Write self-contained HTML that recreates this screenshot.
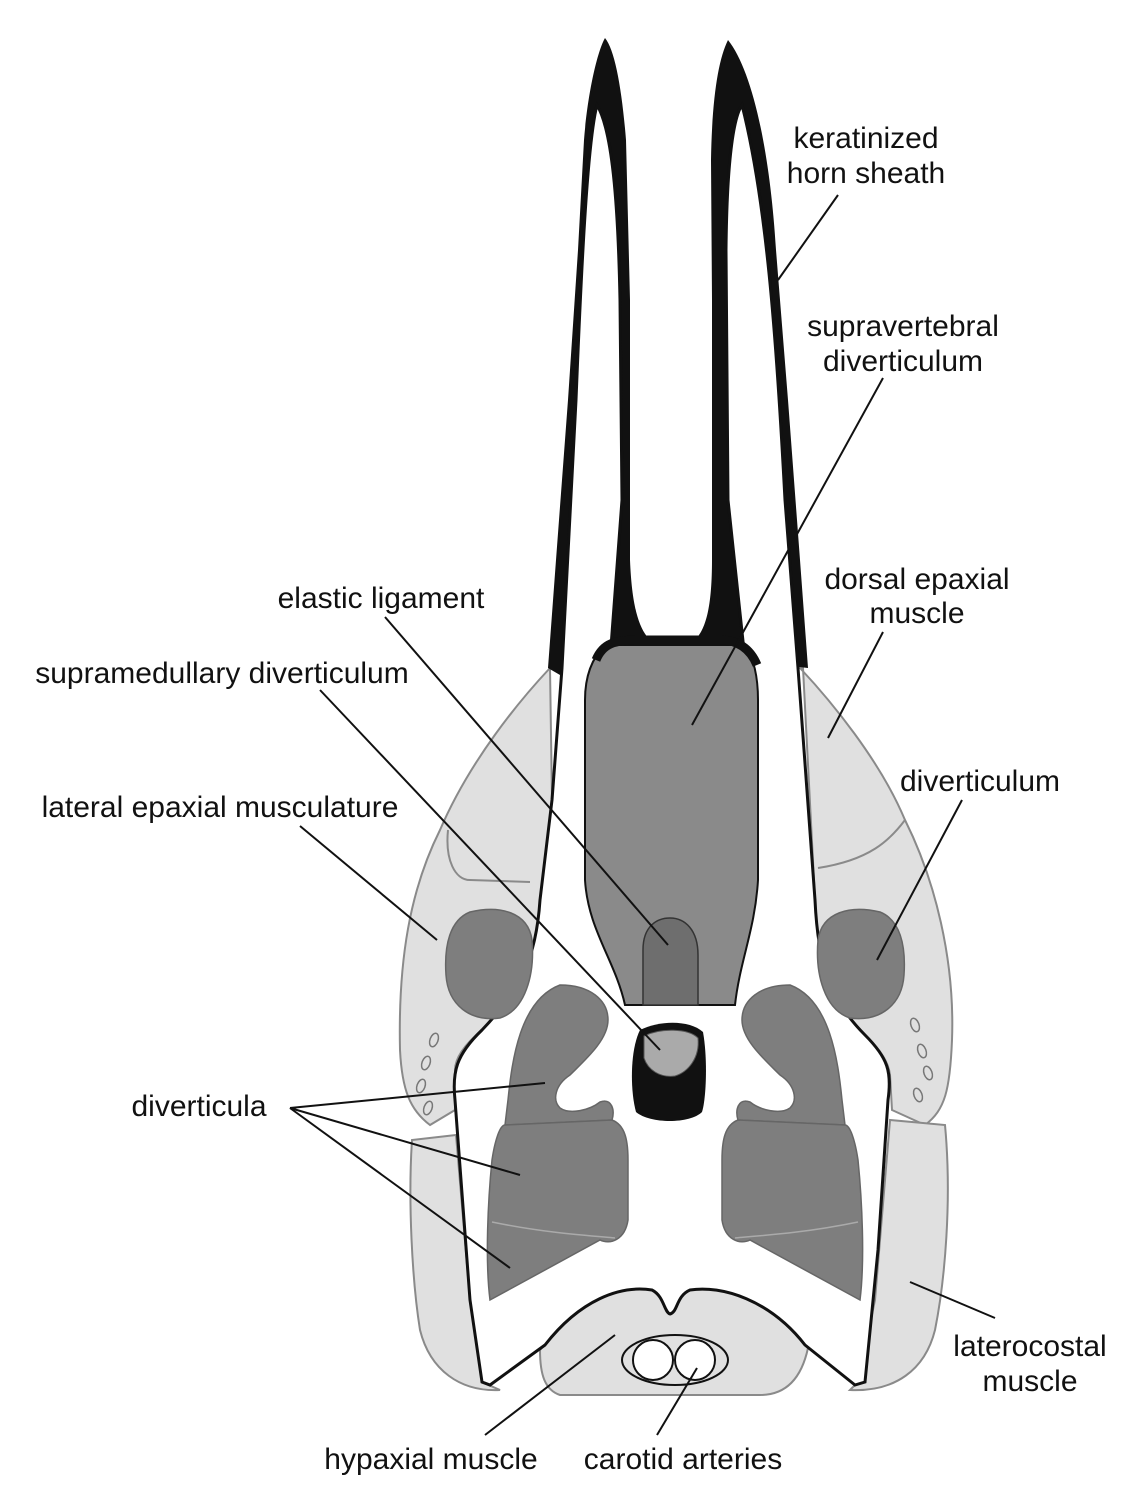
<!DOCTYPE html>
<html><head><meta charset="utf-8"><style>
html,body{margin:0;padding:0;background:#fff;}
svg{display:block}
text{font-family:"Liberation Sans",Arial,sans-serif;font-size:30px;fill:#111;text-anchor:middle}
</style></head><body>
<svg width="1144" height="1494" viewBox="0 0 1144 1494" xmlns="http://www.w3.org/2000/svg">
<g fill="#e0e0e0" stroke="#8a8a8a" stroke-width="2">
 <path d="M550,668 C520,700 470,760 440,830 C410,890 398,960 400,1050 C402,1090 410,1110 430,1125 L455,1110 L455,1070 C455,1055 470,1040 482,1030 C520,990 536,960 540,900 L552,800 Z"/>
 <path d="M412,1140 C408,1200 412,1280 420,1330 C430,1370 460,1392 500,1390 L482,1382 L470,1300 L456,1135 Z"/>
 <path d="M800,668 C830,700 880,760 905,820 C935,880 955,960 952,1040 C950,1090 945,1110 925,1125 L892,1110 L890,1075 C888,1058 875,1045 865,1035 C830,1000 818,965 815,900 L803,668 Z"/>
 <path d="M945,1125 C952,1200 945,1280 935,1330 C925,1370 895,1392 850,1390 L858,1382 L875,1300 L890,1120 Z"/>
 <path d="M540,1350 C580,1300 620,1285 652,1290 C664,1296 664,1312 670,1314 C678,1312 676,1296 690,1290 C722,1285 770,1300 808,1348 C800,1385 780,1395 760,1395 L560,1395 C545,1390 540,1375 540,1350 Z"/>
</g>
<g fill="none" stroke="#8a8a8a" stroke-width="2">
 <path d="M448,830 C445,860 455,880 470,880 L530,882"/>
 <path d="M905,820 C890,840 870,860 818,868"/>
</g>
<path fill="#111" d="M548,668 L556,560 L568,400 L578,250 L584,140 C588,90 598,50 605,38 C615,50 622,90 626,140 L630,300 L630,560 C632,610 640,630 650,640 L620,660 L560,675 Z"/>
<path fill="#111" d="M808,668 L800,560 L788,400 L776,250 C770,150 752,70 728,40 C718,60 712,100 711,160 L712,300 L712,560 C712,610 705,630 695,640 L740,660 Z"/>
<path fill="#fff" stroke="#111" stroke-width="3" d="M597,105 C588,140 582,250 576,400 L562,668 L552,800 L540,900 C536,960 520,990 482,1030 C456,1055 452,1072 455,1100 L470,1300 L482,1382 L490,1385 L545,1345 C580,1300 620,1285 652,1290 C664,1296 664,1312 670,1314 C678,1312 676,1296 690,1290 C722,1285 770,1300 805,1345 L855,1385 L865,1382 L878,1250 L888,1100 C892,1072 888,1058 865,1035 C830,1000 818,965 815,900 L798,668 L785,500 C776,330 766,200 742,105 C735,115 727,150 726,250 L728,500 L745,660 L610,660 L622,500 L620,300 C618,200 612,130 597,105 Z"/>
<path fill="#8a8a8a" stroke="#111" stroke-width="2" d="M605,645 L745,645 C755,660 758,680 758,700 L758,880 C755,930 740,960 735,1005 L625,1005 C615,960 588,930 585,880 L585,700 C585,680 590,660 605,645 Z"/>
<path fill="none" stroke="#111" stroke-width="9" d="M596,660 C603,643 615,640 640,640 L720,640 C737,640 750,648 757,665"/>
<path fill="#6e6e6e" stroke="#333" stroke-width="1.5" d="M643,1005 L643,950 C643,925 658,918 670,918 C685,918 698,930 698,955 L698,1005 Z"/>
<path fill="#111" d="M640,1030 C660,1020 690,1020 703,1032 C708,1060 706,1100 702,1112 C690,1124 650,1124 636,1112 C630,1090 630,1050 640,1030 Z"/>
<path fill="#aaa" stroke="#555" stroke-width="1" d="M644,1036 C660,1028 688,1028 698,1038 C700,1058 688,1072 675,1076 C660,1078 648,1070 644,1058 Z"/>
<g id="dv" fill="#7e7e7e" stroke="#666" stroke-width="1.5">
 <path d="M560,985 C590,985 608,1000 608,1020 C608,1040 585,1060 570,1075 C555,1085 552,1100 560,1108 C570,1115 590,1110 600,1102 C612,1098 615,1110 612,1120 L505,1125 L508,1100 C512,1060 520,1000 560,985 Z"/>
 <path d="M505,1125 L612,1120 C625,1125 628,1140 628,1160 L628,1220 C625,1240 610,1245 600,1240 L490,1300 C485,1260 488,1200 492,1160 C495,1140 500,1125 505,1125 Z"/>
 <path fill="none" stroke="#aaa" d="M492,1222 C540,1232 580,1235 615,1238"/>
 <path d="M470,912 C500,905 528,912 532,940 C535,975 525,1010 500,1018 C470,1022 448,1005 446,975 C444,945 450,920 470,912 Z"/>
</g>
<use href="#dv" transform="translate(1350,0) scale(-1,1)"/>
<g fill="none" stroke="#777" stroke-width="1.5">
 <ellipse cx="434" cy="1040" rx="4" ry="7" transform="rotate(20 434 1040)"/>
 <ellipse cx="426" cy="1063" rx="4" ry="7" transform="rotate(20 426 1063)"/>
 <ellipse cx="421" cy="1086" rx="4" ry="7" transform="rotate(20 421 1086)"/>
 <ellipse cx="428" cy="1108" rx="4" ry="7" transform="rotate(20 428 1108)"/>
 <ellipse cx="915" cy="1025" rx="4" ry="7" transform="rotate(-20 915 1025)"/>
 <ellipse cx="922" cy="1051" rx="4" ry="7" transform="rotate(-20 922 1051)"/>
 <ellipse cx="928" cy="1073" rx="4" ry="7" transform="rotate(-20 928 1073)"/>
 <ellipse cx="918" cy="1095" rx="4" ry="7" transform="rotate(-20 918 1095)"/>
</g>
<ellipse cx="675" cy="1360" rx="53" ry="25" fill="#e0e0e0" stroke="#111" stroke-width="2"/>
<circle cx="653" cy="1360" r="20" fill="#fff" stroke="#111" stroke-width="2"/>
<circle cx="695" cy="1360" r="20" fill="#fff" stroke="#111" stroke-width="2"/>
<g stroke="#111" stroke-width="2" fill="none">
 <line x1="838" y1="195" x2="778" y2="280"/>
 <line x1="883" y1="378" x2="692" y2="725"/>
 <line x1="883" y1="632" x2="828" y2="738"/>
 <line x1="962" y1="800" x2="877" y2="960"/>
 <line x1="385" y1="617" x2="668" y2="945"/>
 <line x1="320" y1="690" x2="660" y2="1050"/>
 <line x1="300" y1="826" x2="437" y2="940"/>
 <line x1="290" y1="1108" x2="545" y2="1083"/>
 <line x1="290" y1="1108" x2="520" y2="1175"/>
 <line x1="290" y1="1108" x2="510" y2="1268"/>
 <line x1="995" y1="1318" x2="910" y2="1282"/>
 <line x1="485" y1="1435" x2="615" y2="1335"/>
 <line x1="657" y1="1435" x2="697" y2="1368"/>
</g>
<text x="866" y="148">keratinized</text>
<text x="866" y="183">horn sheath</text>
<text x="903" y="336">supravertebral</text>
<text x="903" y="371">diverticulum</text>
<text x="917" y="589">dorsal epaxial</text>
<text x="917" y="623">muscle</text>
<text x="980" y="791">diverticulum</text>
<text x="381" y="608">elastic ligament</text>
<text x="222" y="683">supramedullary diverticulum</text>
<text x="220" y="817">lateral epaxial musculature</text>
<text x="199" y="1116">diverticula</text>
<text x="1030" y="1356">laterocostal</text>
<text x="1030" y="1391">muscle</text>
<text x="431" y="1469">hypaxial muscle</text>
<text x="683" y="1469">carotid arteries</text>
</svg>
</body></html>
